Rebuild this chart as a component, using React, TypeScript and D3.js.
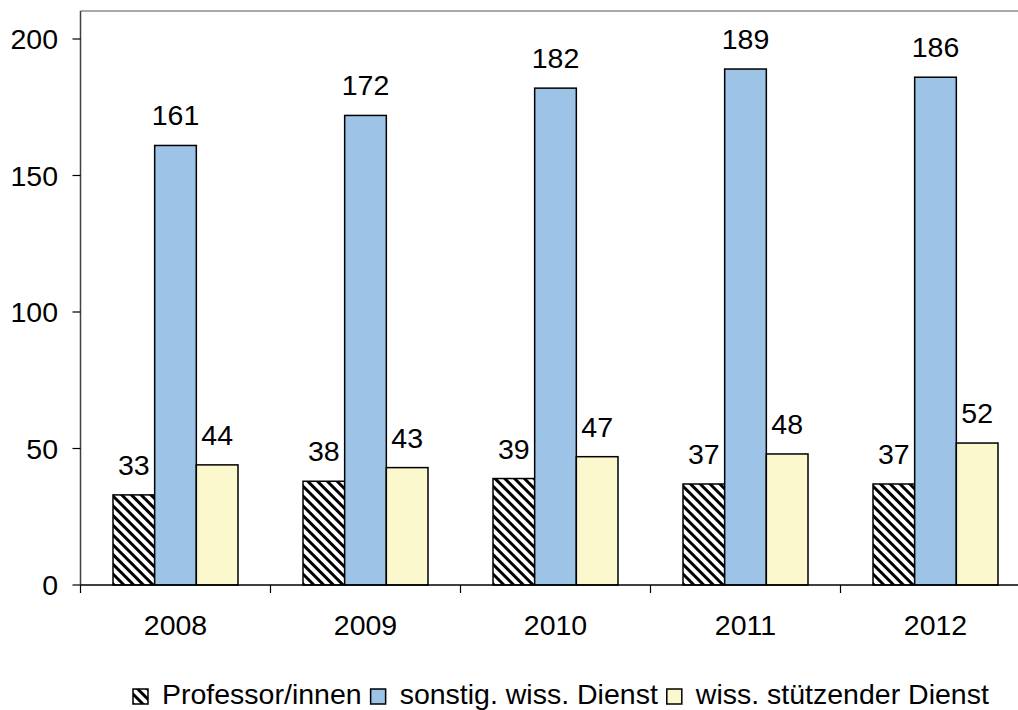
import React, { useRef, useEffect } from "react";
import * as d3 from "d3";

// chart data
const years = ["2008", "2009", "2010", "2011", "2012"];
const seriesNames = [
	"Professor/innen",
	"sonstig. wiss. Dienst",
	"wiss. stützender Dienst",
];
const professoren = [33, 38, 39, 37, 37];
const sonstigDienst = [161, 172, 182, 189, 186];
const stuetzenderDienst = [44, 43, 47, 48, 52];
const yTicks = [0, 50, 100, 150, 200];

const WIDTH = 1018;
const HEIGHT = 710;
const FONT = "'Liberation Sans', Arial, sans-serif";
const FONT_SIZE = 28.5;

const fills = ["url(#hatch)", "#9dc3e6", "#fbf8cd"];

const App: React.FC = () => {
	const svgRef = useRef<SVGSVGElement | null>(null);

	useEffect(() => {
		const svgEl = svgRef.current;
		if (!svgEl) return;
		const svg = d3.select(svgEl);
		svg.selectAll("*").remove();

		// hatch pattern for professors
		const hs = 6.9;
		const defs = svg.append("defs");
		const pat = defs
			.append("pattern")
			.attr("id", "hatch")
			.attr("patternUnits", "userSpaceOnUse")
			.attr("width", hs)
			.attr("height", hs)
			.attr("patternTransform", "rotate(-45)");
		pat.append("rect").attr("width", hs).attr("height", hs).attr("fill", "#fff");
		pat
			.append("line")
			.attr("x1", hs / 2)
			.attr("x2", hs / 2)
			.attr("y1", 0)
			.attr("y2", hs)
			.attr("stroke", "#000")
			.attr("stroke-width", 3);

		const plotLeft = 80.5;
		const plotTop = 11;
		const y = d3.scaleLinear().domain([0, 200]).range([585, 39]);
		const x0 = d3.scaleBand<string>().domain(years).range([plotLeft, plotLeft + 950]);
		const x1 = d3
			.scaleBand<number>()
			.domain([0, 1, 2])
			.range([0, x0.bandwidth()])
			.paddingOuter(0.78);

		const rows = years.map((yr, i) => ({
			year: yr,
			values: [professoren[i], sonstigDienst[i], stuetzenderDienst[i]],
		}));

		// top border
		svg
			.append("line")
			.attr("x1", plotLeft)
			.attr("x2", WIDTH)
			.attr("y1", plotTop)
			.attr("y2", plotTop)
			.attr("stroke", "#8c8c8c")
			.attr("stroke-width", 1.5);

		// bars
		const groups = svg
			.append("g")
			.selectAll("g")
			.data(rows)
			.join("g")
			.attr("transform", (d) => `translate(${x0(d.year)},0)`);

		groups
			.selectAll("rect")
			.data((d) => d.values)
			.join("rect")
			.attr("x", (_, j) => x1(j)!)
			.attr("y", (v) => y(v))
			.attr("width", x1.bandwidth())
			.attr("height", (v) => y(0) - y(v))
			.attr("fill", (_, j) => fills[j])
			.attr("stroke", "#000")
			.attr("stroke-width", 1.5);

		groups
			.selectAll("text")
			.data((d) => d.values)
			.join("text")
			.attr("x", (_, j) => x1(j)! + x1.bandwidth() / 2)
			.attr("y", (v) => y(v) - 20)
			.attr("text-anchor", "middle")
			.attr("font-family", FONT)
			.attr("font-size", FONT_SIZE)
			.attr("fill", "#000")
			.text((v) => String(v));

		// y axis
		svg
			.append("line")
			.attr("x1", plotLeft)
			.attr("x2", plotLeft)
			.attr("y1", plotTop)
			.attr("y2", y(0))
			.attr("stroke", "#404040")
			.attr("stroke-width", 1.5);
		const yt = svg.append("g").selectAll("g").data(yTicks).join("g");
		yt.append("line")
			.attr("x1", plotLeft - 8)
			.attr("x2", plotLeft)
			.attr("y1", (d) => y(d))
			.attr("y2", (d) => y(d))
			.attr("stroke", "#000")
			.attr("stroke-width", 1.2);
		yt.append("text")
			.attr("x", 58)
			.attr("y", (d) => y(d) + 10)
			.attr("text-anchor", "end")
			.attr("font-family", FONT)
			.attr("font-size", FONT_SIZE)
			.text((d) => String(d));

		// x axis
		svg
			.append("line")
			.attr("x1", plotLeft)
			.attr("x2", WIDTH)
			.attr("y1", y(0))
			.attr("y2", y(0))
			.attr("stroke", "#000")
			.attr("stroke-width", 1.5);
		const xTickPos = years.map((yr) => x0(yr)!);
		svg
			.append("g")
			.selectAll("line")
			.data(xTickPos)
			.join("line")
			.attr("x1", (d) => d)
			.attr("x2", (d) => d)
			.attr("y1", y(0))
			.attr("y2", y(0) + 8)
			.attr("stroke", "#000")
			.attr("stroke-width", 1.2);
		svg
			.append("g")
			.selectAll("text")
			.data(years)
			.join("text")
			.attr("x", (d) => x0(d)! + x0.bandwidth() / 2)
			.attr("y", 635)
			.attr("text-anchor", "middle")
			.attr("font-family", FONT)
			.attr("font-size", FONT_SIZE)
			.text((d) => d);

		// legend
		const legend = svg.append("g");
		let lx = 133;
		seriesNames.forEach((name, j) => {
			legend
				.append("rect")
				.attr("x", lx)
				.attr("y", 689)
				.attr("width", 15)
				.attr("height", 15)
				.attr("fill", fills[j])
				.attr("stroke", "#000")
				.attr("stroke-width", 1.5);
			const t = legend
				.append("text")
				.attr("x", lx + 29)
				.attr("y", 704)
				.attr("font-family", FONT)
				.attr("font-size", FONT_SIZE)
				.text(name);
			const w = (t.node() as SVGTextElement).getComputedTextLength();
			lx = lx + 29 + w + 9;
		});
	}, []);

	return (
		<svg
			ref={svgRef}
			width={WIDTH}
			height={HEIGHT}
			style={{ position: "absolute", left: 0, top: 0, background: "#fff" }}
		/>
	);
};

export default App;
